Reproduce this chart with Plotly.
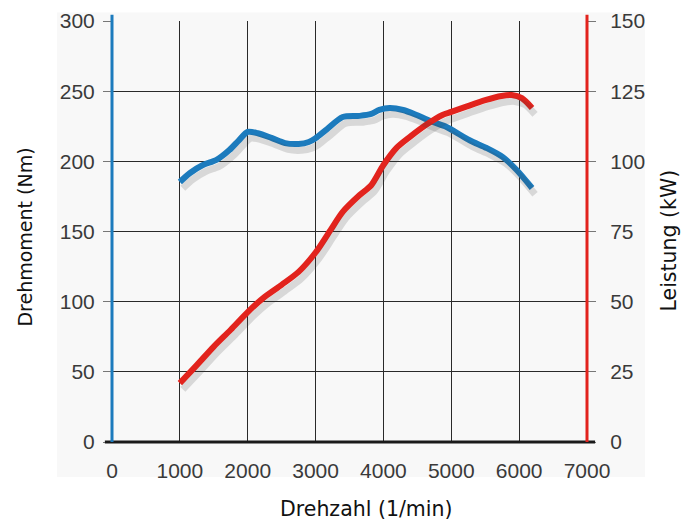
import plotly.graph_objects as go

# Data
rpm_torque = [1000, 1150, 1340, 1540, 1730, 1870, 2000, 2150, 2350, 2550, 2750, 2900, 3000, 3170,
              3400, 3650, 3820, 3940, 4090, 4290, 4490, 4730, 4930, 5270, 5520, 5760, 5960, 6190]
torque_nm = [185.3, 191.7, 197.4, 201, 208, 215, 221, 220, 216.7, 213, 212.4, 213.8, 216.5, 223,
             231.6, 232.4, 233.8, 236.6, 238, 236.6, 233, 228, 224.5, 215, 209.5, 203, 194, 181]

rpm_power = [1000, 1250, 1500, 1750, 2000, 2250, 2500, 2750, 3000, 3220, 3400, 3650, 3820, 4000,
             4190, 4390, 4630, 4870, 5000, 5210, 5500, 5740, 5890, 6040, 6190]
power_kw = [21, 27.4, 34, 40, 46.3, 51.7, 56, 60.6, 67.5, 75.5, 82, 88, 91.5, 98.7,
            104.7, 108.7, 113, 116.5, 117.6, 119.4, 121.8, 123.3, 123.6, 122.5, 119]

x_ticks = [0, 1000, 2000, 3000, 4000, 5000, 6000, 7000]
torque_ticks = [0, 50, 100, 150, 200, 250, 300]
power_ticks = [0, 25, 50, 75, 100, 125, 150]

BLUE = "#1c7bbd"
RED = "#e2231d"
SHADOW = "rgba(60,60,60,0.17)"

fig = go.Figure()

# soft shadows (drawn on slightly shifted overlay axes)
fig.add_trace(go.Scatter(x=rpm_torque, y=torque_nm, mode="lines", xaxis="x2", yaxis="y3",
                         line=dict(color=SHADOW, width=7, shape="spline", smoothing=0.8),
                         hoverinfo="skip", showlegend=False))
fig.add_trace(go.Scatter(x=rpm_power, y=power_kw, mode="lines", xaxis="x2", yaxis="y4",
                         line=dict(color=SHADOW, width=7, shape="spline", smoothing=0.8),
                         hoverinfo="skip", showlegend=False))

fig.add_trace(go.Scatter(x=rpm_torque, y=torque_nm, mode="lines", name="Drehmoment",
                         line=dict(color=BLUE, width=6, shape="spline", smoothing=0.8),
                         showlegend=False))
fig.add_trace(go.Scatter(x=rpm_power, y=power_kw, mode="lines", name="Leistung", yaxis="y2",
                         line=dict(color=RED, width=6, shape="spline", smoothing=0.8),
                         showlegend=False))

tickfont = dict(family="Liberation Sans, Arial, sans-serif", size=21, color="#3a3a3a")
TITLE_FAMILY = "DejaVu Sans, sans-serif"

fig.update_layout(
    width=695, height=522,
    margin=dict(l=104, r=116, t=13, b=88),
    paper_bgcolor="white",
    plot_bgcolor="#eef0f1",
    showlegend=False,
    shapes=[
        dict(type="rect", xref="paper", yref="paper", x0=-0.116, x1=1.122, y0=-0.083, y1=1.02,
             fillcolor="#f8f8f8", line=dict(width=0), layer="below"),
        dict(type="line", xref="paper", yref="paper", x0=-0.015, x1=1.017, y0=0, y1=0,
             line=dict(color="#1a1a1a", width=3)),
        dict(type="line", xref="paper", yref="paper", x0=0, x1=0, y0=0, y1=1.015,
             line=dict(color=BLUE, width=3)),
        dict(type="line", xref="paper", yref="paper", x0=1, x1=1, y0=0, y1=1.015,
             line=dict(color=RED, width=3)),
    ],
    annotations=[
        dict(text="Drehzahl (1/min)", xref="paper", yref="paper", x=0.535, y=-0.159,
             xanchor="center", yanchor="middle", showarrow=False,
             font=dict(family=TITLE_FAMILY, size=20.5, color="#111111")),
        dict(text="Drehmoment (Nm)", xref="paper", yref="paper", x=-0.184, y=0.487,
             xanchor="center", yanchor="middle", showarrow=False, textangle=-90,
             font=dict(family=TITLE_FAMILY, size=19, color="#111111")),
        dict(text="Leistung (kW)", xref="paper", yref="paper", x=1.173, y=0.479,
             xanchor="center", yanchor="middle", showarrow=False, textangle=-90,
             font=dict(family=TITLE_FAMILY, size=20.5, color="#111111")),
    ],
    xaxis=dict(range=[0, 7000], tickvals=x_ticks, ticktext=[str(v) for v in x_ticks],
               showgrid=True, gridcolor="#2a2a2a", gridwidth=1, zeroline=False, automargin=False,
               showline=False, ticks="", tickfont=tickfont, ticklabelstandoff=14),
    xaxis2=dict(range=[-44, 6956], overlaying="x", visible=False),
    yaxis=dict(range=[0, 300], tickvals=torque_ticks, showgrid=True, gridcolor="#2a2a2a", gridwidth=1,
               zeroline=False, showline=False, automargin=False,
               ticks="outside", ticklen=8, tickcolor="#777777", tickwidth=1, tickfont=tickfont,
               ticklabelstandoff=4),
    yaxis2=dict(range=[0, 150], tickvals=power_ticks, overlaying="y", side="right", showgrid=False,
                zeroline=False, showline=False, automargin=False,
                ticks="outside", ticklen=8, tickcolor="#777777", tickwidth=1, tickfont=tickfont,
                ticklabelstandoff=10),
    yaxis3=dict(range=[4.5, 304.5], overlaying="y", visible=False),
    yaxis4=dict(range=[2.25, 152.25], overlaying="y", visible=False),
)

fig.write_html("out.html")
